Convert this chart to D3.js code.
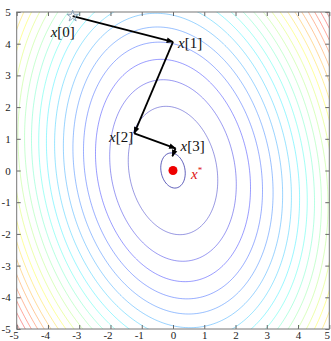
<!DOCTYPE html>
<html>
<head>
<meta charset="utf-8">
<script src="https://cdn.jsdelivr.net/npm/d3@7"></script>
<style>
  body { margin: 0; background: #fff; }
  text { font-family: "Liberation Serif", "DejaVu Serif", serif; }
</style>
</head>
<body>
<div id="chart"></div>
<script>
// gradient descent iterates
const iterX = [-3.21, 0.0, -1.24, 0.08, -0.02];
const iterY = [4.87, 4.06, 1.17, 0.70, 0.45];
const iterLabels = ['0', '1', '2', '3'];
const optimum = [0, 0];

// objective f(x, y) = a*x^2 + b*y^2 + c*x*y
const coefA = 1;
const coefB = 0.5;
const coefC = 0.22;
const levels = [0.15, 2, 4, 6, 8, 10, 12, 14, 16, 18, 20, 22, 24, 26, 28,
  30, 32, 34, 36, 38, 40, 42, 44];
const colorMax = 45;

const xTicks = [-5, -4, -3, -2, -1, 0, 1, 2, 3, 4, 5];
const yTicks = [-5, -4, -3, -2, -1, 0, 1, 2, 3, 4, 5];

const width = 331, height = 341;
const margin = { top: 12, right: 1.7, bottom: 12, left: 16.7 };

const svg = d3.select('#chart')
  .append('svg')
  .attr('width', width)
  .attr('height', height);

const x = d3.scaleLinear().domain([-5, 5]).range([margin.left, width - margin.right]);
const y = d3.scaleLinear().domain([-5, 5]).range([height - margin.bottom, margin.top]);

svg.append('clipPath').attr('id', 'plot')
  .append('rect')
  .attr('x', x(-5)).attr('y', y(5))
  .attr('width', x(5) - x(-5)).attr('height', y(-5) - y(5));

// contour grid, a bit larger than the view so borders stay open
const step = 0.05, g0 = -6, n = 241;
const values = new Array(n * n);
for (let j = 0; j < n; ++j) {
  const yv = -g0 - j * step;
  for (let i = 0; i < n; ++i) {
    const xv = g0 + i * step;
    values[j * n + i] = coefA * xv * xv + coefB * yv * yv + coefC * xv * yv;
  }
}

const jet = d3.scaleLinear()
  .domain([0, 0.125, 0.375, 0.625, 0.875, 1].map(t => t * colorMax))
  .range(['#00008f', '#0000ff', '#00ffff', '#ffff00', '#ff0000', '#800000'])
  .clamp(true);

const contours = d3.contours().size([n, n]).thresholds(levels)(values);

const proj = d3.geoTransform({
  point(px, py) {
    this.stream.point(x(g0 + (px - 0.5) * step), y(-g0 - (py - 0.5) * step));
  }
});
const path = d3.geoPath(proj);

svg.append('g')
  .attr('clip-path', 'url(#plot)')
  .attr('fill', 'none')
  .selectAll('path')
  .data(contours)
  .enter()
  .append('path')
  .attr('d', path)
  .attr('stroke', d => jet(d.value))
  .attr('stroke-opacity', d => d.value < 1 ? 0.7 : 0.45)
  .attr('stroke-width', 0.9);

// axes box with inward ticks
const tickFont = g => g.selectAll('text')
  .style('font-family', '"Liberation Serif", serif')
  .style('font-size', '11px')
  .attr('fill', '#222');

svg.append('g')
  .attr('transform', `translate(0,${y(-5)})`)
  .call(d3.axisBottom(x).tickValues(xTicks).tickSize(-4).tickPadding(2).tickFormat(d => String(d)))
  .call(g => g.select('.domain').remove())
  .call(g => g.selectAll('line').attr('stroke', '#666'))
  .call(tickFont)
  .call(g => g.selectAll('text').attr('dx', d => d < 0 ? -3 : d === 5 ? -2.5 : 0));

svg.append('g')
  .attr('transform', `translate(0,${y(5)})`)
  .call(d3.axisTop(x).tickValues(xTicks).tickSize(-4).tickFormat(''))
  .call(g => g.select('.domain').remove())
  .call(g => g.selectAll('line').attr('stroke', '#666'));

svg.append('g')
  .attr('transform', `translate(${x(-5)},0)`)
  .call(d3.axisLeft(y).tickValues(yTicks).tickSize(-4).tickPadding(6).tickFormat(d => String(d)))
  .call(g => g.select('.domain').remove())
  .call(g => g.selectAll('line').attr('stroke', '#666'))
  .call(tickFont);

svg.append('g')
  .attr('transform', `translate(${x(5)},0)`)
  .call(d3.axisRight(y).tickValues(yTicks).tickSize(-4).tickFormat(''))
  .call(g => g.select('.domain').remove())
  .call(g => g.selectAll('line').attr('stroke', '#666'));

svg.append('rect')
  .attr('x', x(-5)).attr('y', y(5))
  .attr('width', x(5) - x(-5)).attr('height', y(-5) - y(5))
  .attr('fill', 'none')
  .attr('stroke', '#777')
  .attr('stroke-width', 1);

// arrows
svg.append('defs').append('marker')
  .attr('id', 'arrow')
  .attr('viewBox', '0 0 10 10')
  .attr('refX', 9).attr('refY', 5)
  .attr('markerUnits', 'userSpaceOnUse')
  .attr('markerWidth', 8).attr('markerHeight', 7)
  .attr('orient', 'auto')
  .append('path')
  .attr('d', 'M0,1 L10,5 L0,9 Z')
  .attr('fill', '#000');

const segs = d3.range(iterX.length - 1);
svg.append('g')
  .selectAll('line')
  .data(segs)
  .enter()
  .append('line')
  .attr('x1', i => x(iterX[i]))
  .attr('y1', i => y(iterY[i]))
  .attr('x2', i => x(iterX[i + 1]))
  .attr('y2', i => y(iterY[i + 1]))
  .attr('stroke', '#000')
  .attr('stroke-width', 1.8)
  .attr('marker-end', 'url(#arrow)');

svg.append('path')
  .attr('d', d3.symbol(d3.symbolStar, 40)())
  .attr('transform', `translate(${x(iterX[0])},${y(iterY[0])})`)
  .attr('fill', 'none')
  .attr('stroke', '#8aa2b8')
  .attr('stroke-width', 1);

svg.append('circle')
  .attr('cx', x(optimum[0]))
  .attr('cy', y(optimum[1]))
  .attr('r', 4.5)
  .attr('fill', '#ee0000');

// labels
const labelOffsets = [[-22, 21, 'start'], [5, 6, 'start'], [-1, 9, 'end'], [5, 3, 'start']];
const labels = svg.append('g').style('font-size', '15px');
iterLabels.forEach((k, i) => {
  const [dx, dy, anchor] = labelOffsets[i];
  const t = labels.append('text')
    .attr('x', x(iterX[i]) + dx)
    .attr('y', y(iterY[i]) + dy)
    .attr('text-anchor', anchor)
    .attr('fill', '#111');
  t.append('tspan').style('font-style', 'italic').text('x');
  t.append('tspan').text(`[${k}]`);
});

const star = labels.append('text')
  .attr('x', x(optimum[0]) + 18)
  .attr('y', y(optimum[1]) + 8)
  .attr('fill', '#dd1111');
star.append('tspan').style('font-style', 'italic').text('x');
star.append('tspan').attr('dy', -6).style('font-size', '9px').text('*');
</script>
</body>
</html>
